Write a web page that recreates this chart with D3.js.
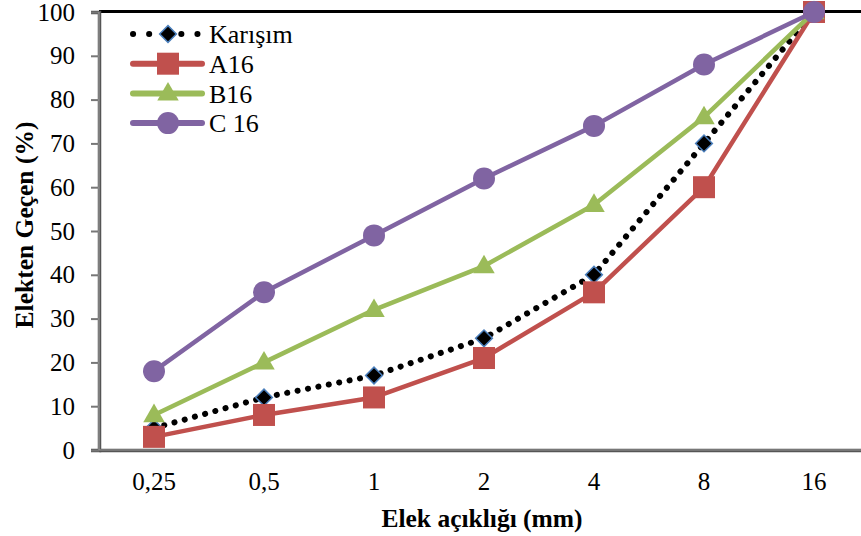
<!DOCTYPE html>
<html><head><meta charset="utf-8">
<script src="https://cdn.jsdelivr.net/npm/d3@7"></script>
<style>body{margin:0;background:#fff}svg{display:block}</style>
</head><body>
<svg id="c" width="861" height="536"></svg>
<script>
const categories = ["0,25","0,5","1","2","4","8","16"];
const karisim = [5, 12, 17, 25.5, 40, 70, 100];
const a16 = [3, 8, 12, 21, 36, 60, 100];
const b16 = [8, 20, 32, 42, 56, 76, 100];
const c16 = [18, 36, 49, 62, 74, 88, 100];
const yTicks = [0,10,20,30,40,50,60,70,80,90,100];
const seriesNames = ["Karışım","A16","B16","C 16"];

(function(){
const FONT = "'Liberation Serif', 'Times New Roman', serif";
const svg = d3.select("#c");
const mL = 99, mR = 869, mT = 12, mB = 450;
const x = d3.scaleBand().domain(categories).range([mL, mR]);
const y = d3.scaleLinear().domain([0,100]).range([mB, mT]);
const cx = d => x(d) + x.bandwidth()/2;

const series = [
  {name: seriesNames[0], values: karisim, color: "#000", type: "diamond"},
  {name: seriesNames[1], values: a16, color: "#c0504d", type: "square"},
  {name: seriesNames[2], values: b16, color: "#9bbb59", type: "triangle"},
  {name: seriesNames[3], values: c16, color: "#8064a2", type: "circle"}
];

svg.append("line").attr("x1", mL).attr("x2", 861).attr("y1", mT-0.5).attr("y2", mT-0.5)
  .attr("stroke", "#000").attr("stroke-width", 3);

const yAxis = d3.axisLeft(y).tickValues(yTicks).tickSize(8).tickPadding(16).tickFormat(d3.format("d"));
const gy = svg.append("g").attr("transform", `translate(${mL},0)`).call(yAxis);
gy.select(".domain").attr("stroke", "#555").attr("stroke-width", 3.5);
gy.selectAll(".tick line").attr("stroke", "#777").attr("stroke-width", 2);
gy.selectAll(".tick text").style("font-size", "25px").style("font-family", FONT).attr("fill", "#000");

const xAxis = d3.axisBottom(x).tickSize(0).tickPadding(22);
const gx = svg.append("g").attr("transform", `translate(0,${mB})`).call(xAxis);
gx.select(".domain").attr("stroke", "#555").attr("stroke-width", 3.5);
gx.selectAll(".tick text").style("font-size", "25px").style("font-family", FONT).attr("fill", "#000");

svg.append("line").attr("x1", mL).attr("x2", mL).attr("y1", mT).attr("y2", mB)
  .attr("stroke", "#9a9a9a").attr("stroke-width", 1.2);
svg.append("line").attr("x1", mL).attr("x2", 861).attr("y1", mB).attr("y2", mB)
  .attr("stroke", "#9a9a9a").attr("stroke-width", 1.2);

const line = d3.line().x((d,i) => cx(categories[i])).y(d => y(d));

function marker(g, type, color, px, py) {
  if (type === "diamond") {
    g.append("path").attr("d", d3.symbol(d3.symbolSquare, 140)())
      .attr("transform", `translate(${px},${py}) rotate(45)`)
      .attr("fill", "#000").attr("stroke", "#4a7ebb").attr("stroke-width", 1.5);
  } else if (type === "square") {
    g.append("rect").attr("x", px-11).attr("y", py-11).attr("width", 22).attr("height", 22).attr("fill", color);
  } else if (type === "triangle") {
    g.append("path").attr("d", d3.symbol(d3.symbolTriangle, 200)())
      .attr("transform", `translate(${px},${py+1})`).attr("fill", color);
  } else {
    g.append("circle").attr("cx", px).attr("cy", py).attr("r", 11).attr("fill", color);
  }
}

const plot = svg.append("g");
series.forEach(s => {
  const g = plot.append("g");
  const p = g.append("path").datum(s.values).attr("d", line).attr("fill", "none").attr("stroke", s.color);
  if (s.type === "diamond") {
    p.attr("stroke-width", 6).attr("stroke-dasharray", "0.1 10.5").attr("stroke-linecap", "round");
  } else {
    p.attr("stroke-width", 4.5).attr("stroke-linejoin", "round");
  }
  s.values.forEach((v,i) => marker(g, s.type, s.color, cx(categories[i]), y(v)));
});

const lg = svg.append("g");
series.forEach((s,i) => {
  const ly = 34 + i*29.7;
  const g = lg.append("g");
  const l = g.append("line").attr("x1", 133).attr("x2", 202).attr("y1", ly).attr("y2", ly).attr("stroke", s.color);
  if (s.type === "diamond") l.attr("stroke-width", 6).attr("stroke-dasharray", "0.1 16").attr("stroke-linecap", "round");
  else l.attr("stroke-width", 6).attr("stroke-linecap", "round");
  marker(g, s.type, s.color, 168, ly);
  g.append("text").attr("x", 209).attr("y", ly).attr("dy", "0.35em")
    .style("font-size", "26px").style("font-family", FONT).text(s.name);
});

svg.append("text").attr("x", 482).attr("y", 527).attr("text-anchor", "middle")
  .style("font-size", "25.5px").style("font-family", FONT).style("font-weight", "bold").text("Elek açıklığı (mm)");
svg.append("text").attr("transform", "translate(33,225) rotate(-90)").attr("text-anchor", "middle")
  .style("font-size", "25.5px").style("font-family", FONT).style("font-weight", "bold").text("Elekten Geçen (%)");
})();
</script>
</body></html>
